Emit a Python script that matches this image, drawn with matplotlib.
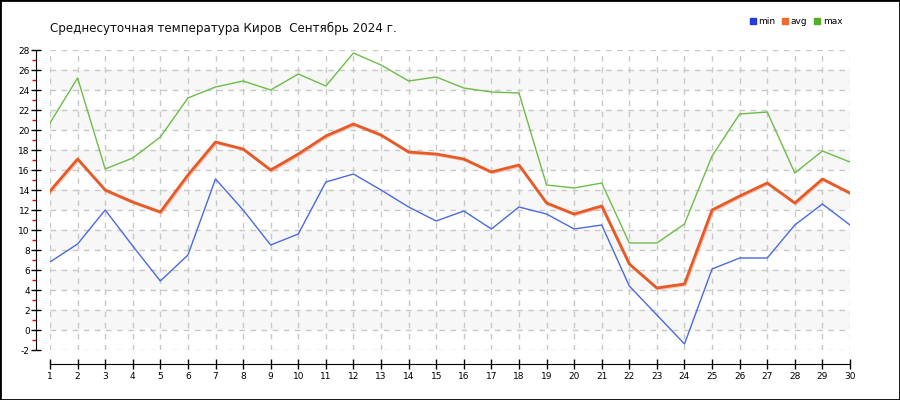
import matplotlib
matplotlib.use('Agg')
import matplotlib.pyplot as plt
import matplotlib.patheffects as pe
from matplotlib.lines import Line2D
from matplotlib.patches import Rectangle

plt.rcParams['axes.unicode_minus'] = False

# Данные: сентябрь 2024, Киров
days = list(range(1, 31))
t_min = [6.8, 8.6, 12.0, 8.4, 4.9, 7.5, 15.1, 12.0, 8.5, 9.6,
         14.8, 15.6, 14.0, 12.3, 10.9, 11.9, 10.1, 12.3, 11.6, 10.1,
         10.5, 4.4, 1.5, -1.4, 6.1, 7.2, 7.2, 10.5, 12.6, 10.5]
t_avg = [13.9, 17.1, 14.0, 12.8, 11.8, 15.5, 18.8, 18.1, 16.0, 17.6,
         19.4, 20.6, 19.5, 17.8, 17.6, 17.1, 15.8, 16.5, 12.7, 11.6,
         12.4, 6.6, 4.2, 4.6, 12.0, 13.4, 14.7, 12.7, 15.1, 13.7]
t_max = [20.7, 25.2, 16.1, 17.2, 19.3, 23.2, 24.3, 24.9, 24.0, 25.6,
         24.4, 27.7, 26.5, 24.9, 25.3, 24.2, 23.8, 23.7, 14.5, 14.2,
         14.7, 8.7, 8.7, 10.6, 17.4, 21.6, 21.8, 15.7, 17.9, 16.8]
y_ticks = list(range(-2, 29, 2))
title = 'Среднесуточная температура Киров  Сентябрь 2024 г.'

fig = plt.figure(figsize=(9, 4), dpi=100)
ax = fig.add_axes([50 / 900, 50 / 400, 800 / 900, 300 / 400])
ax.set_xlim(1, 30)
ax.set_ylim(-2, 28)

# alternating bands
for lo in range(0, 28, 4):
    ax.axhspan(lo, lo + 2, color='#f7f7f7', zorder=0, lw=0)

ax.set_xticks(days)
ax.set_yticks(y_ticks)
ax.set_yticks(range(-1, 28, 2), minor=True)
ax.grid(True, which='major', color='#c8c8c8', ls=(0, (4, 4)), lw=1, zorder=1)

ax.plot(days, t_min, color='#4a6ae0', lw=1.0, zorder=3)
ax.plot(days, t_max, color='#6cbd48', lw=1.0, zorder=3)
ax.plot(days, t_avg, color='#e65a28', lw=2.0, zorder=4,
        path_effects=[pe.SimpleLineShadow(offset=(0.7, -0.7), shadow_color='#f2a080', alpha=0.6),
                      pe.Normal()])

for s in ['top', 'right']:
    ax.spines[s].set_visible(False)
ax.spines['left'].set_position(('outward', 10))
ax.spines['bottom'].set_position(('outward', 10))
ax.tick_params(axis='y', which='major', direction='inout', length=7, width=1,
               labelsize=6.5, pad=1)
ax.tick_params(axis='y', which='minor', direction='out', length=3, width=1, color='red')
ax.tick_params(axis='x', which='major', direction='inout', length=7, width=1,
               labelsize=6.5, pad=2)

fig.text(50 / 900, 1 - 28 / 400, title, fontsize=8.6, va='center', ha='left', color='#111111')

handles = [Line2D([], [], ls='', marker='s', markersize=5, color=c)
           for c in ['#1f3de0', '#ee6a30', '#52ae2c']]
fig.legend(handles, ['min', 'avg', 'max'], loc='center left',
           bbox_to_anchor=(742 / 900, 1 - 22 / 400), ncol=3, frameon=False,
           fontsize=6.5, handlelength=0.6, handletextpad=0.3, columnspacing=0.8)

fig.patches.append(Rectangle((0, 0), 1, 1, transform=fig.transFigure,
                             fill=False, edgecolor='black', lw=2))

fig.savefig('out.png', dpi=100)
